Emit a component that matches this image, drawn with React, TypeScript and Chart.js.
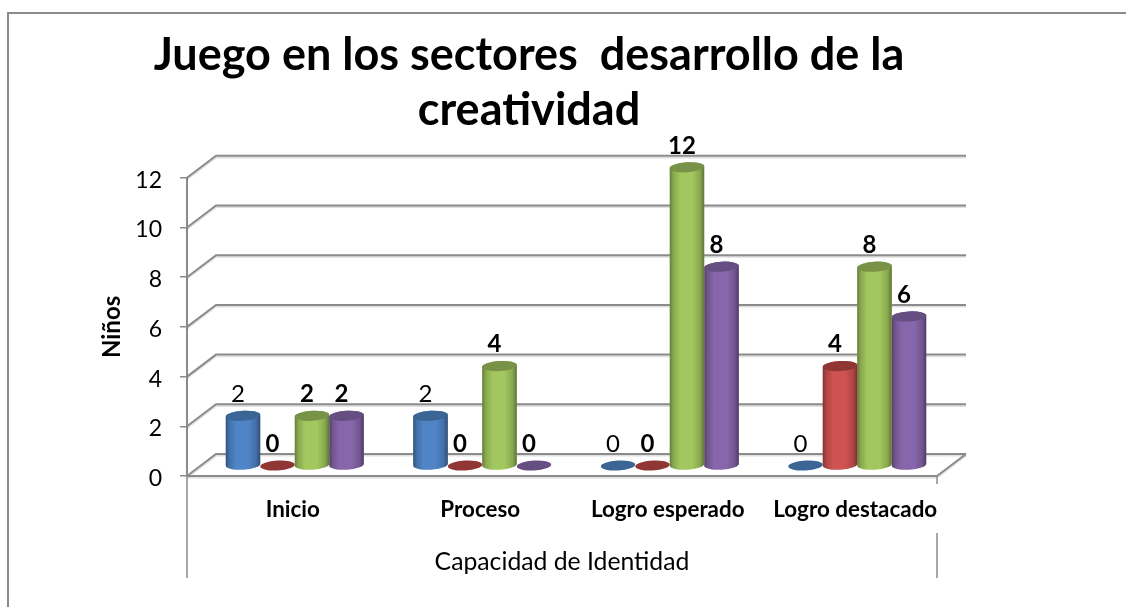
import React, { useEffect, useRef } from "react";
import { Chart, registerables } from "chart.js";

Chart.register(...registerables);

const categories = ["Inicio", "Proceso", "Logro esperado", "Logro destacado"];
const seriesA = [2, 2, 0, 0];
const seriesB = [0, 0, 0, 4];
const seriesC = [2, 4, 12, 8];
const seriesD = [2, 0, 8, 6];
const bodyColors = ["#4F85C6", "#CE5351", "#A2C75E", "#8866AB"];
const capColors = ["#3A6595", "#903634", "#789247", "#654E81"];
const titleLines = ["Juego en los sectores  desarrollo de la", "creatividad"];
const xTitle = "Capacidad de Identidad";
const yTitle = "Niños";

const FONT = "Lato";
const GRID = "#8b8b8b";
const DX = 29;
const DY = -22;
const MIDX = 14;
const MIDY = -10.5;
const TILT = -0.06;
const RY = 5;

function cylinderPath(ctx: CanvasRenderingContext2D, x: number, top: number, base: number, a: number) {
  ctx.moveTo(x + a * Math.cos(TILT), base + a * Math.sin(TILT));
  ctx.ellipse(x, base, a, RY, TILT, 0, Math.PI);
  ctx.lineTo(x - a * Math.cos(TILT), top - a * Math.sin(TILT));
  ctx.ellipse(x, top, a, RY, TILT, Math.PI, Math.PI * 2);
  ctx.closePath();
}

const cylinders = {
  id: "cylinders",
  afterLayout(chart: any) {
    chart.titleBlock.left = 0;
    chart.titleBlock.right = 1058;
  },
  beforeDraw(chart: any) {
    const { ctx } = chart;
    ctx.save();
    ctx.strokeStyle = GRID;
    ctx.lineWidth = 2;
    ctx.beginPath();
    ctx.moveTo(8, 607);
    ctx.lineTo(8, 13);
    ctx.lineTo(1126, 13);
    ctx.stroke();
    ctx.restore();
  },
  beforeDatasetsDraw(chart: any) {
    const { ctx, chartArea: ca } = chart;
    const y = chart.scales.y;
    const stroke = (pts: number[][], color: string, dy: number) => {
      ctx.strokeStyle = color;
      ctx.beginPath();
      pts.forEach((p, i) => (i ? ctx.lineTo(p[0], p[1] + dy) : ctx.moveTo(p[0], p[1] + dy)));
      ctx.stroke();
    };
    ctx.save();
    ctx.lineWidth = 2;
    const paths: number[][][] = y.ticks.map((t: any) => {
      const py = y.getPixelForValue(t.value);
      return [
        [ca.left, py],
        [ca.left + DX, py + DY],
        [ca.right + DX, py + DY],
      ];
    });
    paths.push([
      [ca.left, ca.bottom],
      [ca.right, ca.bottom],
      [ca.right + DX, ca.bottom + DY],
    ]);
    paths.forEach((p) => stroke(p, "rgba(0,0,0,0.12)", 1.6));
    paths.forEach((p) => stroke(p, GRID, 0));
    ctx.lineWidth = 1.5;
    stroke([[ca.left, ca.bottom], [ca.left, 578]], GRID, 0);
    stroke([[ca.right, ca.bottom], [ca.right, 484]], GRID, 0);
    stroke([[ca.right, 533], [ca.right, 578]], GRID, 0);
    ctx.restore();
  },
  beforeDatasetDraw(chart: any, args: any) {
    const { ctx } = chart;
    const meta = chart.getDatasetMeta(args.index);
    ctx.save();
    ctx.translate(MIDX, MIDY);
    ctx.beginPath();
    meta.data.forEach((bar: any) => {
      const p = bar.getProps(["x", "y", "base", "width"]);
      if (p.base - p.y > 0.5) cylinderPath(ctx, p.x, p.y, p.base, p.width / 2);
    });
    ctx.clip();
  },
  afterDatasetDraw(chart: any, args: any) {
    const { ctx } = chart;
    const meta = chart.getDatasetMeta(args.index);
    ctx.restore();
    ctx.save();
    ctx.translate(MIDX, MIDY);
    meta.data.forEach((bar: any) => {
      const p = bar.getProps(["x", "y", "base", "width"]);
      const a = p.width / 2;
      if (p.base - p.y > 0.5) {
        const g = ctx.createLinearGradient(p.x - a, 0, p.x + a, 0);
        g.addColorStop(0, "rgba(0,0,0,0.38)");
        g.addColorStop(0.1, "rgba(0,0,0,0.16)");
        g.addColorStop(0.3, "rgba(0,0,0,0)");
        g.addColorStop(0.65, "rgba(0,0,0,0)");
        g.addColorStop(0.88, "rgba(0,0,0,0.16)");
        g.addColorStop(1, "rgba(0,0,0,0.42)");
        ctx.beginPath();
        cylinderPath(ctx, p.x, p.y, p.base, a);
        ctx.fillStyle = bodyColors[args.index];
        ctx.fill();
        ctx.fillStyle = g;
        ctx.fill();
      }
      ctx.beginPath();
      ctx.ellipse(p.x, p.y, a, RY, TILT, 0, Math.PI * 2);
      ctx.fillStyle = capColors[args.index];
      ctx.fill();
    });
    ctx.restore();
  },
  afterDatasetsDraw(chart: any) {
    const { ctx } = chart;
    ctx.save();
    ctx.fillStyle = "#000";
    ctx.textAlign = "center";
    ctx.textBaseline = "middle";
    chart.data.datasets.forEach((ds: any, i: number) => {
      ctx.font = `${i === 0 ? "400" : "700"} 24px ${FONT}`;
      chart.getDatasetMeta(i).data.forEach((bar: any, j: number) => {
        const p = bar.getProps(["x", "y"]);
        ctx.fillText(String(ds.data[j]), p.x + MIDX - 5, p.y + MIDY - 21.5);
      });
    });
    ctx.restore();
  },
};

export default function App() {
  const ref = useRef<HTMLCanvasElement>(null);
  useEffect(() => {
    document.body.style.margin = "0";
    const chart = new Chart(ref.current!, {
      type: "bar",
      data: {
        labels: categories,
        datasets: [seriesA, seriesB, seriesC, seriesD].map((data, i) => ({
          label: `S${i + 1}`,
          data,
          backgroundColor: bodyColors[i],
          borderWidth: 0,
          clip: false,
          categoryPercentage: 0.736,
          barPercentage: 1,
        })),
      } as any,
      plugins: [cylinders],
      options: {
        responsive: false,
        animation: false,
        layout: { padding: { left: 0, top: 0, bottom: 0, right: 189 } },
        plugins: {
          legend: { display: false },
          tooltip: { enabled: false },
          title: {
            display: true,
            text: titleLines,
            color: "#000",
            font: { family: FONT, size: 45, weight: "700", lineHeight: 1.22 },
            padding: { top: 28, bottom: 40 },
          },
        },
        scales: {
          x: {
            afterFit: (s: any) => {
              s.height = 131;
            },
            grid: { display: false },
            border: { display: false },
            title: {
              display: true,
              text: xTitle,
              color: "#000",
              font: { family: FONT, size: 24.75, weight: "400", lineHeight: 1.2 },
              padding: { bottom: 30, top: 0 },
            },
            ticks: {
              color: "#000",
              font: { family: FONT, size: 22.4, weight: "700" },
              padding: 12,
              labelOffset: 12,
              maxRotation: 0,
              autoSkip: false,
            },
          },
          y: {
            min: 0,
            max: 12,
            afterFit: (s: any) => {
              s.width = 187;
            },
            grid: { drawOnChartArea: false, drawTicks: true, tickLength: 7, color: GRID, lineWidth: 1.5 },
            border: { display: true, color: GRID, width: 2 },
            title: {
              display: true,
              text: yTitle,
              color: "#000",
              font: { family: FONT, size: 24, weight: "700", lineHeight: 1.2 },
              padding: { top: 97.6, bottom: 0 },
            },
            ticks: {
              stepSize: 2,
              color: "#000",
              font: { family: FONT, size: 23, weight: "400" },
              padding: 18,
              labelOffset: 2.5,
            },
          },
        },
      } as any,
    });
    return () => chart.destroy();
  }, []);
  return (
    <div style={{ position: "fixed", left: 0, top: 0, width: 1126, height: 607, background: "#fff" }}>
      <canvas ref={ref} width={1126} height={607} style={{ display: "block" }} />
    </div>
  );
}
